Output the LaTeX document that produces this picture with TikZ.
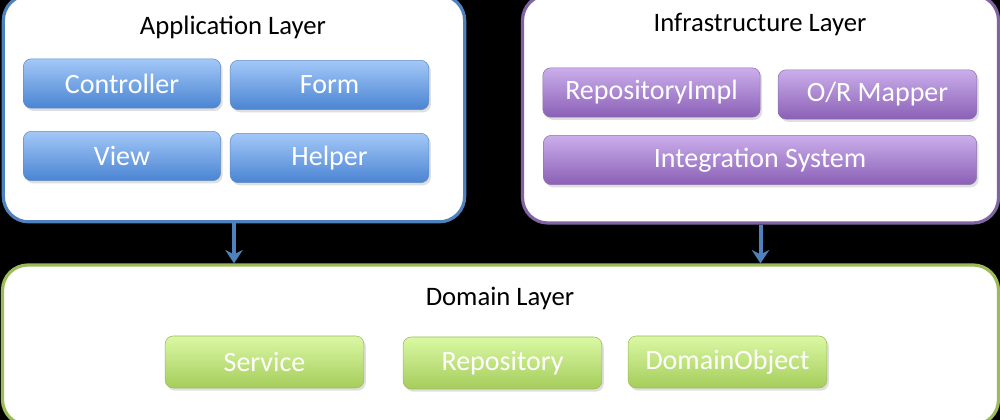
\documentclass[tikz,border=0pt]{standalone}
\usepackage{fontspec}
\setmainfont{Carlito}
\usepackage{tikz}
\usepackage{xcolor}
\usetikzlibrary{shadows, arrows.meta}
\definecolor{app-line}{HTML}{4F81BD}
\definecolor{infra-line}{HTML}{8064A2}
\definecolor{domain-line}{HTML}{9BBB59}
\definecolor{app-top}{HTML}{A3C8F8}
\definecolor{app-bottom}{HTML}{4A84D2}
\definecolor{infra-top}{HTML}{CBAEEB}
\definecolor{infra-bottom}{HTML}{8A60B6}
\definecolor{domain-top}{HTML}{DAF8A4}
\definecolor{domain-bottom}{HTML}{A5CD5B}
\tikzset{
    layer-box/.style = {draw=#1, fill=white, line width=2.4pt, rectangle, rounded corners=19pt, inner sep=0pt},
    layer-title/.style = {text=black, font=\fontsize{20}{24}\selectfont},
    part-box/.style = {rectangle, rounded corners=6pt, inner sep=0pt, text=white, font=\fontsize{21}{24}\selectfont,
        drop shadow={opacity=0.25, shadow xshift=1.5pt, shadow yshift=-2pt}},
    app-part/.style = {part-box, draw=app-line!90, top color=app-top, bottom color=app-bottom},
    infra-part/.style = {part-box, draw=infra-line!90, top color=infra-top, bottom color=infra-bottom},
    domain-part/.style = {part-box, draw=domain-line, top color=domain-top, bottom color=domain-bottom},
    depends-arrow/.style = {draw=app-line, line width=3pt, -{Stealth[length=10pt, width=13pt]}},
}

\begin{document}
\begin{tikzpicture}[x=0.75pt, y=-0.75pt]
\useasboundingbox[fill=black] (0,0) rectangle (1000,420);
% layers
\node [layer-box=app-line, minimum width=346pt, minimum height=170pt] (app) at (234,108.5) {};
\node [layer-box=infra-line, minimum width=357pt, minimum height=171pt] (infra) at (760.5,109) {};
\node [layer-box=domain-line, minimum width=747pt, minimum height=120pt] (domain) at (500.5,345) {};
\node [layer-title] (app-title) at (233,27) {Application Layer};
\node [layer-title] (infra-title) at (760,25) {Infrastructure Layer};
\node [layer-title] (domain-title) at (500,298) {Domain Layer};
% application parts
\node [app-part, minimum width=148pt, minimum height=37pt] (controller) at (122,83.5) {Controller};
\node [app-part, minimum width=149pt, minimum height=37pt] (form) at (329.5,85) {Form};
\node [app-part, minimum width=148pt, minimum height=37pt] (view) at (122,156) {View};
\node [app-part, minimum width=149pt, minimum height=37pt] (helper) at (329.5,158) {Helper};
% infrastructure parts
\node [infra-part, minimum width=163pt, minimum height=37pt] (repo-impl) at (651.5,92.5) {RepositoryImpl};
\node [infra-part, minimum width=149pt, minimum height=37pt] (or-mapper) at (877.5,94.5) {O/R Mapper};
\node [infra-part, minimum width=325pt, minimum height=37pt] (integration) at (760,160) {Integration System};
% domain parts
\node [domain-part, minimum width=149pt, minimum height=39pt] (service) at (264.5,362) {Service};
\node [domain-part, minimum width=149pt, minimum height=39pt] (repository) at (502.5,363) {Repository};
\node [domain-part, minimum width=149pt, minimum height=39pt] (domain-object) at (727.5,362) {DomainObject};
% dependencies
\draw [depends-arrow] (app.south) -- (app.south |- domain.north)
    node [midway, right=10pt, text=black, font=\fontsize{18}{20}\selectfont] (app-dep) {depends};
\draw [depends-arrow] (infra.south) -- (infra.south |- domain.north)
    node [midway, right=10pt, text=black, font=\fontsize{18}{20}\selectfont] (infra-dep) {depends};
\end{tikzpicture}
\end{document}
